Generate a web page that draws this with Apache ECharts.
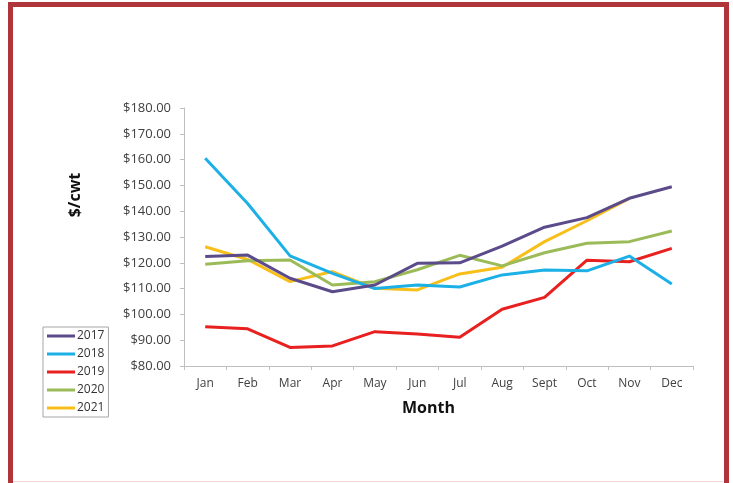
<!DOCTYPE html>
<html>
<head>
<meta charset="utf-8">
<script src="https://cdn.jsdelivr.net/npm/echarts@6/dist/echarts.min.js"></script>
<style>
html,body{margin:0;padding:0;background:#fff;}
#chart{width:733px;height:483px;}
</style>
</head>
<body>
<div id="chart"></div>
<script>
var months = ['Jan','Feb','Mar','Apr','May','Jun','Jul','Aug','Sept','Oct','Nov','Dec'];
var y2017 = [122.4, 123.0, 114.0, 108.8, 111.4, 119.8, 120.0, 126.5, 133.8, 137.5, 145.0, 149.5];
var y2018 = [160.5, 143.0, 122.7, 115.9, 110.0, 111.4, 110.6, 115.3, 117.2, 116.9, 122.6, 111.8];
var y2019 = [95.2, 94.4, 87.2, 87.8, 93.3, 92.4, 91.1, 102.0, 106.6, 121.0, 120.4, 125.6];
var y2020 = [119.4, 120.8, 121.1, 111.4, 112.7, 117.3, 122.9, 118.8, 123.9, 127.6, 128.2, 132.3];
var y2021 = [126.2, 121.3, 112.7, 116.6, 110.1, 109.5, 115.7, 118.3, 128.2, 136.3, 145.0, null];
var seriesNames = ['2017','2018','2019','2020','2021'];
var seriesColors = ['#5b4b8a','#1cb0e6','#e8201f','#9bbb59','#f8bf1a'];
var seriesData = [y2017, y2018, y2019, y2020, y2021];

var chart = echarts.init(document.getElementById('chart'), null, {renderer:'canvas'});
var series = seriesNames.map(function(n, i){
  return {
    name: n, type: 'line', data: seriesData[i], showSymbol: false, symbol: 'none',
    lineStyle: {width: 3, color: seriesColors[i]}, itemStyle: {color: seriesColors[i]},
    z: 10 - i, connectNulls: false
  };
});
chart.setOption({
  animation: false,
  backgroundColor: '#fff',
  grid: {left: 184, right: 40, top: 108, bottom: 117, containLabel: false},
  legend: {
    orient: 'vertical', left: 43, top: 327, icon: 'rect', itemWidth: 28, itemHeight: 3,
    itemGap: 4, padding: [2, 4, 2, 4], borderColor: '#a6a6a6', borderWidth: 1,
    textStyle: {fontFamily: 'Open Sans', fontSize: 12, color: '#333', lineHeight: 14, padding: [0,0,0,-3]},
    data: seriesNames
  },
  xAxis: {
    type: 'category', data: months, boundaryGap: true,
    axisLine: {lineStyle: {color: '#bfbfbf', width: 1}},
    axisTick: {show: true, length: 4, lineStyle: {color: '#bfbfbf'}},
    axisLabel: {fontFamily: 'Open Sans', fontSize: 12, color: '#404040', margin: 12}
  },
  yAxis: {
    type: 'value', min: 80, max: 180, interval: 10,
    axisLine: {show: true, lineStyle: {color: '#bfbfbf', width: 1}},
    axisTick: {show: true, length: 4, lineStyle: {color: '#bfbfbf'}},
    splitLine: {show: false},
    axisLabel: {fontFamily: 'Open Sans', fontSize: 13, color: '#404040', margin: 13,
      formatter: function(v){ return '$' + v.toFixed(2); }}
  },
  graphic: [
    {type: 'rect', shape: {x: 10.5, y: 4.5, width: 716, height: 500}, style: {fill: 'none', stroke: '#b0353b', lineWidth: 5}, silent: true},
    {type: 'line', shape: {x1: 13, y1: 481.5, x2: 723, y2: 481.5}, style: {stroke: '#f3d3d8', lineWidth: 1}, silent: true},
    {type: 'text', left: 402, top: 400, style: {text: 'Month', font: 'bold 16px "Open Sans"', fill: '#111'}},
    {type: 'text', x: 75, y: 195, rotation: Math.PI/2, style: {text: '$/cwt', font: 'bold 16px "Open Sans"', fill: '#111', align: 'center', verticalAlign: 'middle'}}
  ],
  series: series
});
</script>
</body>
</html>
